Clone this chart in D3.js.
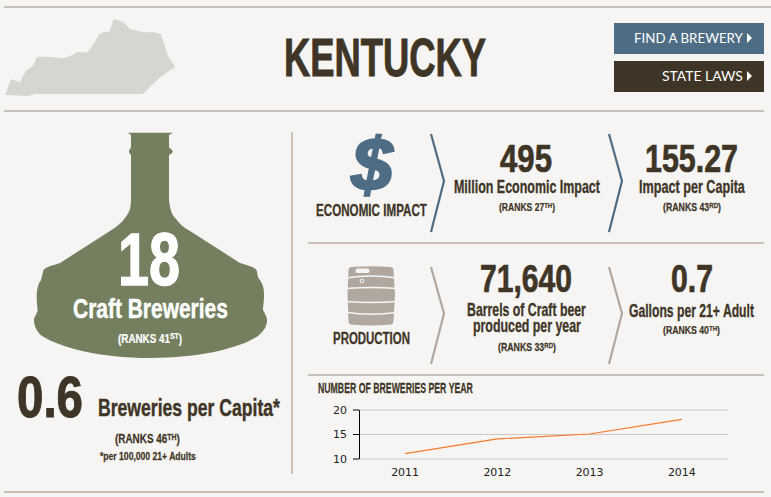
<!DOCTYPE html>
<html lang="en">
  <head>
    <title>Kentucky</title>
    <script src="https://d3js.org/d3.v7.min.js"></script>
    <style>
      html,
      body {
        margin: 0;
        padding: 0;
        background: #f6f5f3;
      }

      svg {
        display: block;
      }

      .cond {
        font-family: "Liberation Sans Narrow", "Liberation Sans", sans-serif;
        font-weight: bold;
      }

      .axis text {
        font-family: "DejaVu Sans", sans-serif;
        font-size: 11px;
        fill: #222;
      }

      .axis .domain {
        stroke: #000;
      }

      .x-axis .domain,
      .x-axis line {
        stroke: none;
      }

      .gridlines line {
        stroke: #cbc9c5;
      }

      .gridlines .domain {
        stroke: none;
      }
    </style>
  </head>

  <body>
    <svg id="page" width="771" height="497"></svg>

    <script>
      // chart data
      const years = ["2011", "2012", "2013", "2014"];
      const breweries = [11, 14, 15, 18];
      const yTicks = [10, 15, 20];

      // headline figures
      const stateName = "KENTUCKY";
      const buttonLabels = ["FIND A BREWERY", "STATE LAWS"];
      const bigNumbers = ["18", "0.6", "495", "155.27", "71,640", "0.7"];
      const captions = [
        "Craft Breweries",
        "Breweries per Capita*",
        "Million Economic Impact",
        "Impact per Capita",
        "Barrels of Craft beer",
        "produced per year",
        "Gallons per 21+ Adult",
      ];
      const rankNumbers = ["41", "46", "27", "43", "33", "40"];
      const rankSuffixes = ["ST", "TH", "TH", "RD", "RD", "TH"];

      const dark = "#3f3527";
      const blue = "#4e6d85";
      const green = "#747f60";
      const taupe = "#b0a89f";
      const rule = "#c8c1b9";
      const paper = "#f6f5f3";

      const svg = d3.select("svg#page");

      function hline(x1, x2, y, color) {
        svg
          .append("line")
          .attr("x1", x1)
          .attr("x2", x2)
          .attr("y1", y)
          .attr("y2", y)
          .attr("stroke", color || rule)
          .attr("stroke-width", 2);
      }

      // squeeze a text so it runs from x1 to x2
      function fit(t, x1, x2, y) {
        const natural = t.node().getComputedTextLength();
        t.attr("transform", `translate(${x1},${y}) scale(${(x2 - x1) / natural},1)`);
        return t;
      }

      function label(str, x1, x2, y, size, color) {
        const t = svg
          .append("text")
          .attr("class", "cond")
          .attr("font-size", size)
          .attr("fill", color || dark)
          .attr("stroke", color || dark)
          .attr("stroke-width", Math.max(0.25, size * 0.018))
          .text(str);
        return fit(t, x1, x2, y);
      }

      function rankLabel(i, x1, x2, y, size, color) {
        const t = label("(RANKS " + rankNumbers[i], x1, x2, y, size, color);
        t.append("tspan")
          .attr("font-size", size * 0.7)
          .attr("dy", -size * 0.25)
          .text(rankSuffixes[i]);
        t.append("tspan")
          .attr("dy", size * 0.25)
          .text(")");
        fit(t, x1, x2, y);
      }

      function chevron(x, tip, y1, y2, color) {
        svg
          .append("path")
          .attr("d", `M${x},${y1}L${tip},${(y1 + y2) / 2 - 2}L${x},${y2}`)
          .attr("fill", "none")
          .attr("stroke", color)
          .attr("stroke-width", 2.2);
      }

      // rules
      hline(4, 771, 7);
      hline(4, 764, 111);
      hline(4, 764, 492);
      hline(308, 764, 243);
      hline(308, 764, 375);
      svg
        .append("line")
        .attr("x1", 292)
        .attr("x2", 292)
        .attr("y1", 132)
        .attr("y2", 474)
        .attr("stroke", rule)
        .attr("stroke-width", 2);

      // state outline
      svg
        .append("path")
        .attr(
          "d",
          "M5,95L11,79L20,82.3L26,70.7L32.7,66L37.3,56.7L48.3,56.7L63.3,58.3L72,55.5L77.3,51.7L87.3,52.7L93,45L99.3,34L103,32.5L109,31.7L114,19L123.3,22L130,29L143.3,32.3L153,32L161,34L168.3,56.7L175.3,66.7L160,77.3L152,85L142.7,94L35,94L28.3,96Z"
        )
        .attr("fill", "#d7d5d0");

      // title and buttons
      label(stateName, 284, 486, 76, 54);

      svg
        .append("rect")
        .attr("x", 614)
        .attr("y", 23)
        .attr("width", 150)
        .attr("height", 31)
        .attr("fill", blue);
      svg
        .append("rect")
        .attr("x", 614)
        .attr("y", 61)
        .attr("width", 150)
        .attr("height", 31)
        .attr("fill", dark);

      const buttonStarts = [634, 662];
      buttonLabels.forEach((d, i) => {
        const yBase = i === 0 ? 43 : 81;
        const t = svg
          .append("text")
          .attr("font-family", "Lato, sans-serif")
          .attr("font-size", 14)
          .attr("fill", "#fff")
          .text(d);
        fit(t, buttonStarts[i], 743, yBase);
        svg
          .append("path")
          .attr("d", `M747,${yBase - 10}L752,${yBase - 5}L747,${yBase}Z`)
          .attr("fill", "#fff");
      });

      // bottle
      svg
        .append("path")
        .attr(
          "d",
          "M128,132.7L173,132.7L169,135L169,147.5Q172.7,150 172.7,151.5Q172.7,153 169,155L169,200C170,210 172,215 176,219C180,224 183,227 190,231L240,263C248,266 257,267 257,272C258,277 258,278 260,280C264,287 264,290 264,295C264,303 263,306 263,310C265,314 267,317 267,320C267,326 264,331 258,336C240,348 200,358 150,358C100,358 62,348 42,336C37,332 34,326 34,320C34,317 37,314 37.7,310C37,306 36.7,300 36.7,295C36.7,290 38,284 41,280C42,277 42,276 43,272C43,267 52,266 60,263L110,231C117,227 122,222 125,218C129,213 131,208 131,200L131,155Q129,153 129,151.5Q129,150 131,147.5L131,135Z"
        )
        .attr("fill", green);

      label(bigNumbers[0], 118, 180, 285, 74, "#fff");
      label(captions[0], 73, 228, 318, 27, "#fff");
      rankLabel(0, 118, 182, 342.5, 13, "#fff");

      // per capita block
      label(bigNumbers[1], 17, 83, 417, 57);
      label(captions[1], 98, 280, 416, 24);
      rankLabel(1, 115, 180, 443, 13);
      label("*per 100,000 21+ Adults", 100, 196, 460, 11);

      // economic impact row
      svg
        .append("text")
        .attr("x", 372)
        .attr("y", 190)
        .attr("text-anchor", "middle")
        .attr("font-family", "Liberation Sans, sans-serif")
        .attr("font-weight", "bold")
        .attr("font-style", "italic")
        .attr("font-size", 74)
        .attr("stroke", blue)
        .attr("stroke-width", 2.5)
        .attr("fill", blue)
        .text("$");
      label("ECONOMIC IMPACT", 316, 427, 215.5, 16);
      chevron(431, 444, 134, 232, blue);
      chevron(609, 622, 134, 232, blue);
      label(bigNumbers[2], 500, 552, 172, 38);
      label(captions[2], 454, 600, 193, 18);
      rankLabel(2, 499, 555, 210.5, 11.5);
      label(bigNumbers[3], 645, 738, 172, 38);
      label(captions[3], 639, 745, 193, 18);
      rankLabel(3, 663, 721, 210.5, 11.5);

      // keg icon
      svg
        .append("path")
        .attr(
          "d",
          "M351,267Q371,265.5 391,267Q393.5,267.5 393.5,270L395,295L393.5,321Q393.5,324 391,324.5Q371,326.5 351,324.5Q348.5,324 348.5,321L347.5,295L348.5,270Q348.5,267.5 351,267Z"
        )
        .attr("fill", taupe);
      // gaps between the staves, bowed like the barrel
      [
        [-2, 276],
        [-1, 287.5],
        [1, 302.5],
        [2, 314.2],
      ].forEach((g) => {
        svg
          .append("path")
          .attr("d", `M346,${g[1] - g[0]}Q371,${g[1] + g[0]} 397,${g[1] - g[0]}`)
          .attr("fill", "none")
          .attr("stroke", paper)
          .attr("stroke-width", 1.5);
      });
      svg
        .append("rect")
        .attr("x", 355.5)
        .attr("y", 268.5)
        .attr("width", 14)
        .attr("height", 4.5)
        .attr("rx", 2)
        .attr("fill", paper);
      svg
        .append("circle")
        .attr("cx", 362)
        .attr("cy", 281)
        .attr("r", 1.8)
        .attr("fill", "none")
        .attr("stroke", paper);

      // production row
      label("PRODUCTION", 333, 410, 344, 16);
      chevron(431, 444, 267, 364, taupe);
      chevron(609, 622, 267, 364, taupe);
      label(bigNumbers[4], 480, 572, 292, 38);
      label(captions[4], 467, 586, 315.5, 18);
      label(captions[5], 473, 581, 331.5, 18);
      rankLabel(4, 498, 556, 351, 11.5);
      label(bigNumbers[5], 671, 713, 292, 38);
      label(captions[6], 629, 754, 316.5, 18);
      rankLabel(5, 663, 720, 334, 11.5);

      // line chart
      label("NUMBER OF BREWERIES PER YEAR", 318, 473, 393, 14);

      const xScale = d3.scaleBand().domain(years).range([359, 728]);
      const yScale = d3.scaleLinear().domain([10, 20]).range([458.5, 409.5]);

      svg
        .append("g")
        .attr("class", "gridlines")
        .attr("transform", "translate(359,0)")
        .call(d3.axisLeft(yScale).tickValues(yTicks).tickSize(-369).tickFormat(""));

      svg
        .append("g")
        .attr("class", "axis y-axis")
        .attr("transform", "translate(359,0)")
        .call(d3.axisLeft(yScale).tickValues(yTicks).tickSizeOuter(0).tickPadding(6));

      svg
        .append("g")
        .attr("class", "axis x-axis")
        .attr("transform", "translate(0,458.5)")
        .call(d3.axisBottom(xScale).tickSize(0).tickPadding(10));

      const line = d3
        .line()
        .x((d, i) => xScale(years[i]) + xScale.bandwidth() / 2)
        .y((d) => yScale(d));

      svg
        .append("path")
        .attr("d", line(breweries))
        .attr("fill", "none")
        .attr("stroke", "#f47a2a")
        .attr("stroke-width", 1.2);
    </script>
  </body>
</html>
